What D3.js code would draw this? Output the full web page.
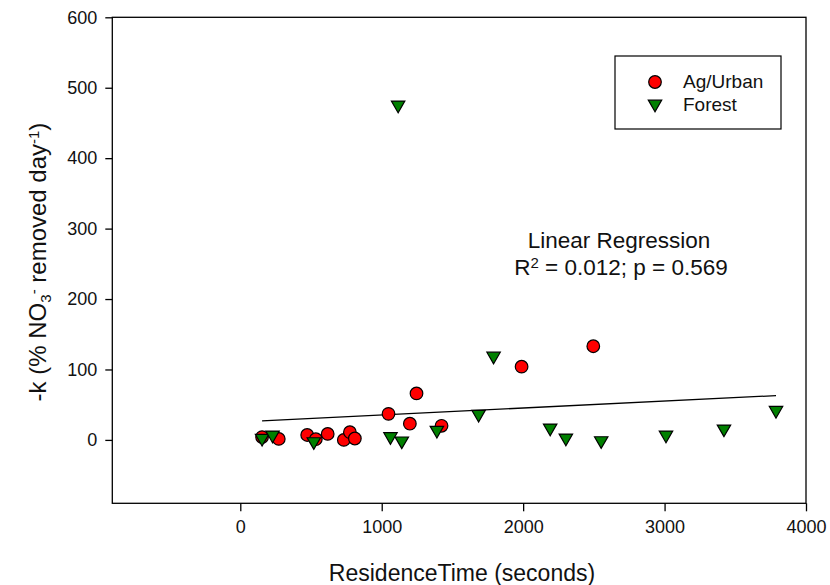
<!DOCTYPE html>
<html>
<head>
<meta charset="utf-8">
<script src="https://cdn.jsdelivr.net/npm/d3@7"></script>
<style>
  html, body { margin: 0; padding: 0; background: #fff; }
  svg { display: block; font-family: "Liberation Sans", Arial, sans-serif; }
</style>
</head>
<body>
<svg id="chart" width="830" height="585"></svg>
<script>
// ---- data ----
const agUrbanX = [154, 272, 473, 534, 618, 732, 775, 810, 1048, 1199, 1246, 1423, 1989, 2496];
const agUrbanY = [4, 1.4, 7, 1, 8.5, 0, 11, 2, 37, 23, 66, 20, 104, 133];
const forestX = [154, 228, 520, 1062, 1116, 1142, 1390, 1685, 1791, 2191, 2302, 2552, 3010, 3420, 3788];
const forestY = [2.4, 7, -2.4, 4.7, 475.5, -1.4, 13.7, 36.5, 119, 17, 2.8, -1, 7, 15.6, 42];
const regressionCoef = [25.5, 0.00988];   // intercept, slope (as drawn in the reference)
const xTicks = [0, 1000, 2000, 3000, 4000];
const yTicks = [0, 100, 200, 300, 400, 500, 600];
const seriesNames = ["Ag/Urban", "Forest"];
const statsText = ["Linear Regression", "0.012", "0.569"];

// ---- layout ----
const svg = d3.select("#chart");
const L = 112.3, R = 806, T = 17.3, B = 503.3;
const x = d3.scaleLinear().domain([-905, 4000]).range([L, R]);
const y = d3.scaleLinear().domain([-90, 600]).range([B, T]);

const ag = agUrbanX.map((v, i) => ({x: v, y: agUrbanY[i]}));
const fo = forestX.map((v, i) => ({x: v, y: forestY[i]}));

// frame
svg.append("rect").attr("x", L).attr("y", T).attr("width", R - L).attr("height", B - T)
  .attr("fill", "none").attr("stroke", "#000").attr("stroke-width", 1.3);

// axes
const xAxis = svg.append("g").attr("transform", `translate(0,${B})`)
  .call(d3.axisBottom(x).tickValues(xTicks).tickSize(8).tickPadding(9).tickFormat(d3.format("d")));
const yAxis = svg.append("g").attr("transform", `translate(${L},0)`)
  .call(d3.axisLeft(y).tickValues(yTicks).tickSize(7).tickPadding(8).tickFormat(d3.format("d")));
[xAxis, yAxis].forEach(g => {
  g.select(".domain").remove();
  g.selectAll(".tick line").attr("stroke", "#000").attr("stroke-width", 1.3);
  g.selectAll(".tick text").attr("fill", "#111").style("font-size", "18px")
    .style("font-family", "'Liberation Sans', Arial, sans-serif");
});

// axis titles
svg.append("text").attr("x", 462).attr("y", 581).attr("text-anchor", "middle")
  .style("font-size", "23px").attr("fill", "#111").text("ResidenceTime (seconds)");

const yt = svg.append("text").attr("transform", "translate(46,262) rotate(-90)")
  .attr("text-anchor", "middle").style("font-size", "24px").attr("fill", "#111");
yt.append("tspan").text("-k (% NO");
yt.append("tspan").attr("baseline-shift", "-30%").style("font-size", "15px").text("3");
yt.append("tspan").attr("baseline-shift", "45%").style("font-size", "15px").text("-");
yt.append("tspan").text(" removed day");
yt.append("tspan").attr("baseline-shift", "45%").style("font-size", "15px").text("-1");
yt.append("tspan").text(")");

// regression line across the data's x range
const all = ag.concat(fo);
const [x0, x1] = d3.extent(all, d => d.x);
const fit = v => regressionCoef[0] + regressionCoef[1] * v;
svg.append("line").attr("x1", x(x0)).attr("y1", y(fit(x0)))
  .attr("x2", x(x1)).attr("y2", y(fit(x1)))
  .attr("stroke", "#000").attr("stroke-width", 1.3);

// points
const tri = d3.symbol().type(d3.symbolTriangle).size(78);
svg.append("g").selectAll("circle").data(ag).join("circle")
  .attr("cx", d => x(d.x)).attr("cy", d => y(d.y)).attr("r", 6.3)
  .attr("fill", "#ff0000").attr("stroke", "#000").attr("stroke-width", 1.2);
svg.append("g").selectAll("path").data(fo).join("path")
  .attr("d", tri).attr("transform", d => `translate(${x(d.x)},${y(d.y)}) rotate(180)`)
  .attr("fill", "#008000").attr("stroke", "#000").attr("stroke-width", 1.2);

// regression text
svg.append("text").attr("x", 619).attr("y", 248).attr("text-anchor", "middle")
  .style("font-size", "22.5px").attr("fill", "#111").text(statsText[0]);
const st = svg.append("text").attr("x", 621).attr("y", 275).attr("text-anchor", "middle")
  .style("font-size", "22.5px").attr("fill", "#111");
st.append("tspan").text("R");
st.append("tspan").attr("baseline-shift", "45%").style("font-size", "15px").text("2");
st.append("tspan").text(` = ${statsText[1]}; p = ${statsText[2]}`);

// legend
const lg = svg.append("g");
lg.append("rect").attr("x", 615).attr("y", 56).attr("width", 166).attr("height", 73)
  .attr("fill", "#fff").attr("stroke", "#000").attr("stroke-width", 1.2);
lg.append("circle").attr("cx", 655).attr("cy", 82).attr("r", 6.3)
  .attr("fill", "#ff0000").attr("stroke", "#000").attr("stroke-width", 1.2);
lg.append("path").attr("d", tri).attr("transform", "translate(655,104) rotate(180)")
  .attr("fill", "#008000").attr("stroke", "#000").attr("stroke-width", 1.2);
lg.selectAll("text").data(seriesNames).join("text")
  .attr("x", 683).attr("y", (d, i) => 88 + i * 23)
  .style("font-size", "19px").attr("fill", "#111").text(d => d);
</script>
</body>
</html>
